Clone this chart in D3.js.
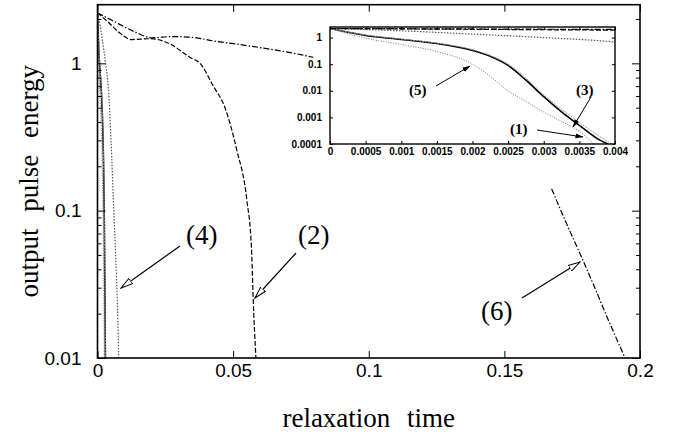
<!DOCTYPE html>
<html>
<head>
<script src="https://d3js.org/d3.v7.min.js"></script>
<style>
  body { margin: 0; background: #fff; }
  .axis path { display: none; }
  .axis line { stroke: #000; stroke-width: 1; }
  .main-tick text { font-family: "Liberation Sans", Arial, sans-serif; font-size: 19px; fill: #000; }
  .inset-tick text { font-family: "Liberation Sans", Arial, sans-serif; font-size: 10px; font-weight: bold; fill: #000; }
  .title { font-family: "Liberation Serif", "Times New Roman", serif; font-size: 27px; word-spacing: 10px; }
  .lab { font-family: "Liberation Serif", "Times New Roman", serif; font-size: 27px; }
  .ilab { font-family: "Liberation Serif", "Times New Roman", serif; font-size: 15px; font-weight: bold; }
</style>
</head>
<body>
<div class="chart"></div>
<script>
// curves: [relaxation time, output pulse energy]
var curve1 = [[0,2.2],[0.0005,1.2],[0.001,0.85],[0.0015,0.6],[0.002,0.33],[0.00225,0.2],[0.0025,0.09],[0.00275,0.025],[0.003,0.006],[0.00325,0.0016],[0.0035,0.0005],[0.00375,0.00016],[0.0039,0.0001]];
var curve2 = [[0,2.2],[0.004,1.9],[0.008,1.62],[0.0125,1.45],[0.016,1.46],[0.02,1.47],[0.024,1.42],[0.0275,1.33],[0.0305,1.22],[0.034,1.1],[0.0378,1.0],[0.0427,0.7],[0.047,0.5],[0.0513,0.26],[0.055,0.12],[0.0568,0.054],[0.0574,0.025],[0.0584,0.01]];
var curve3 = [[0,2.2],[0.0005,1.25],[0.001,0.88],[0.0015,0.62],[0.002,0.35],[0.00225,0.21],[0.0025,0.1],[0.00275,0.03],[0.003,0.007],[0.00325,0.002],[0.0035,0.00065],[0.00375,0.00022],[0.00395,0.0001]];
var curve4 = [[0,2.2],[0.001,1.8],[0.002,1.35],[0.003,1.0],[0.004,0.68],[0.005,0.3],[0.006,0.1],[0.007,0.035],[0.0075,0.018],[0.0078,0.01]];
var curve5 = [[0,2.2],[0.0005,0.95],[0.001,0.55],[0.0015,0.3],[0.002,0.1],[0.00225,0.035],[0.0025,0.01],[0.00275,0.004],[0.003,0.0016],[0.00325,0.0007],[0.0035,0.0003],[0.0037,0.0001]];
var curve6a = [[0,2.2],[0.0053,1.96],[0.0139,1.63],[0.02,1.49],[0.0275,1.52],[0.035,1.5],[0.0427,1.42],[0.055,1.32],[0.0734,1.16],[0.0795,1.1]];
var curve6b = [[0.1674,0.141],[0.1725,0.085],[0.1779,0.051],[0.183,0.031],[0.188,0.0187],[0.1945,0.01]];

var xTicks = [0, 0.05, 0.1, 0.15, 0.2];
var yTicks = [0.01, 0.1, 1];
var yMinor = [0.02,0.03,0.04,0.05,0.06,0.07,0.08,0.09,0.2,0.3,0.4,0.5,0.6,0.7,0.8,0.9,2];
var insetXTicks = [0,0.0005,0.001,0.0015,0.002,0.0025,0.003,0.0035,0.004];
var insetXLabels = ["0","0.0005","0.001","0.0015","0.002","0.0025","0.003","0.0035","0.004"];
var insetYTicks = [0.0001,0.001,0.01,0.1,1];
var insetYLabels = ["0.0001","0.001","0.01","0.1","1"];

var w = 673, h = 437;
var L = 97.5, R = 640, T = 4.7, B = 358;

var svg = d3.select("div.chart").append("svg").attr("width", w).attr("height", h);

var x = d3.scaleLinear().domain([0, 0.2]).range([L, R]);
var y = d3.scaleLog().domain([0.01, 2.5]).range([B, T]);

var defs = svg.append("defs");
defs.append("clipPath").attr("id", "clipMain").append("rect")
    .attr("x", L).attr("y", T).attr("width", R - L).attr("height", B - T);
defs.append("marker").attr("id", "openHead")
    .attr("viewBox", "0 0 13 8").attr("refX", 12).attr("refY", 4)
    .attr("markerWidth", 13).attr("markerHeight", 8)
    .attr("markerUnits", "userSpaceOnUse").attr("orient", "auto")
    .append("path").attr("d", "M0,0.8 L12,4 L0,7.2 Z")
    .attr("fill", "#fff").attr("stroke", "#000").attr("stroke-width", 1);
defs.append("marker").attr("id", "smallHead")
    .attr("viewBox", "0 0 8 6").attr("refX", 7.5).attr("refY", 3)
    .attr("markerWidth", 8).attr("markerHeight", 6)
    .attr("markerUnits", "userSpaceOnUse").attr("orient", "auto")
    .append("path").attr("d", "M0,0.5 L8,3 L0,5.5 Z").attr("fill", "#000");

var styles = [
    {data: curve1, stroke: "#000", width: 1.6, dash: null},
    {data: curve2, stroke: "#000", width: 1.2, dash: "5,2"},
    {data: curve3, stroke: "#999", width: 1, dash: "2,1"},
    {data: curve4, stroke: "#555", width: 1.2, dash: "1.5,1.5"},
    {data: curve5, stroke: "#777", width: 1, dash: "1,1.5"},
    {data: curve6a, stroke: "#000", width: 1.2, dash: "6,2,1.5,2"},
    {data: curve6b, stroke: "#000", width: 1.2, dash: "6,2,1.5,2"}
];

function drawCurves(g, xs, ys, clip) {
    var line = d3.line().curve(d3.curveMonotoneX)
        .x(function(d){ return xs(d[0]); })
        .y(function(d){ return ys(d[1]); });
    g.append("g").attr("clip-path", "url(#" + clip + ")")
        .selectAll("path").data(styles).enter().append("path")
        .attr("fill", "none")
        .attr("stroke", function(d){ return d.stroke; })
        .attr("stroke-width", function(d){ return d.width; })
        .attr("stroke-dasharray", function(d){ return d.dash; })
        .attr("d", function(d){ return line(d.data); });
}

drawCurves(svg, x, y, "clipMain");

// main axes, ticks pointing inward
svg.append("g").attr("class", "axis main-tick")
    .attr("transform", "translate(0," + B + ")")
    .call(d3.axisBottom(x).tickValues(xTicks).tickSizeInner(-7).tickSizeOuter(0).tickPadding(6)
        .tickFormat(function(d){ return String(d); }));
svg.append("g").attr("class", "axis")
    .attr("transform", "translate(0," + T + ")")
    .call(d3.axisTop(x).tickValues(xTicks).tickSizeInner(-7).tickSizeOuter(0).tickFormat(""));
svg.append("g").attr("class", "axis main-tick")
    .attr("transform", "translate(" + L + ",0)")
    .call(d3.axisLeft(y).tickValues(yTicks).tickSizeInner(-8).tickSizeOuter(0).tickPadding(16)
        .tickFormat(function(d){ return String(d); }));
svg.append("g").attr("class", "axis")
    .attr("transform", "translate(" + L + ",0)")
    .call(d3.axisLeft(y).tickValues(yMinor).tickSizeInner(-4).tickSizeOuter(0).tickFormat(""));
svg.append("g").attr("class", "axis")
    .attr("transform", "translate(" + R + ",0)")
    .call(d3.axisRight(y).tickValues(yTicks).tickSizeInner(-8).tickSizeOuter(0).tickFormat(""));
svg.append("g").attr("class", "axis")
    .attr("transform", "translate(" + R + ",0)")
    .call(d3.axisRight(y).tickValues(yMinor).tickSizeInner(-4).tickSizeOuter(0).tickFormat(""));

svg.append("rect").attr("x", L).attr("y", T).attr("width", R - L).attr("height", B - T)
    .attr("fill", "none").attr("stroke", "#000").attr("stroke-width", 1.6);

// axis titles
svg.append("text").attr("class", "title").attr("text-anchor", "middle")
    .attr("x", (L + R) / 2).attr("y", 427).text("relaxation time");
svg.append("text").attr("class", "title").attr("text-anchor", "middle")
    .attr("transform", "translate(38," + ((T + B) / 2) + ") rotate(-90)")
    .text("output pulse energy");

// curve labels
var labels = [
    {t: "(4)", x: 186, y: 244, x1: 180, y1: 246, x2: 121, y2: 288},
    {t: "(2)", x: 298, y: 244, x1: 296, y1: 253, x2: 255, y2: 298},
    {t: "(6)", x: 481, y: 320, x1: 522, y1: 298, x2: 580, y2: 262}
];
svg.selectAll("line.arrow").data(labels).enter().append("line")
    .attr("class", "arrow")
    .attr("x1", function(d){ return d.x1; }).attr("y1", function(d){ return d.y1; })
    .attr("x2", function(d){ return d.x2; }).attr("y2", function(d){ return d.y2; })
    .attr("stroke", "#000").attr("stroke-width", 1.2).attr("marker-end", "url(#openHead)");
svg.selectAll("text.lab").data(labels).enter().append("text")
    .attr("class", "lab").attr("x", function(d){ return d.x; }).attr("y", function(d){ return d.y; })
    .text(function(d){ return d.t; });

// inset
var iL = 330, iR = 615, iT = 27, iB = 144;
var ix = d3.scaleLinear().domain([0, 0.004]).range([iL, iR]);
var iy = d3.scaleLog().domain([0.0001, 2.5]).range([iB, iT]);
defs.append("clipPath").attr("id", "clipInset").append("rect")
    .attr("x", iL).attr("y", iT).attr("width", iR - iL).attr("height", iB - iT);

var inset = svg.append("g");
inset.append("rect").attr("x", iL).attr("y", iT).attr("width", iR - iL).attr("height", iB - iT)
    .attr("fill", "#fff");
drawCurves(inset, ix, iy, "clipInset");

inset.append("g").attr("class", "axis inset-tick")
    .attr("transform", "translate(0," + iB + ")")
    .call(d3.axisBottom(ix).tickValues(insetXTicks).tickSizeInner(-3).tickSizeOuter(0).tickPadding(4)
        .tickFormat(function(d, i){ return insetXLabels[i]; }));
inset.append("g").attr("class", "axis")
    .attr("transform", "translate(0," + iT + ")")
    .call(d3.axisTop(ix).tickValues(insetXTicks).tickSizeInner(-3).tickSizeOuter(0).tickFormat(""));
inset.append("g").attr("class", "axis inset-tick")
    .attr("transform", "translate(" + iL + ",0)")
    .call(d3.axisLeft(iy).tickValues(insetYTicks).tickSizeInner(-3).tickSizeOuter(0).tickPadding(8)
        .tickFormat(function(d, i){ return insetYLabels[i]; }));
inset.append("g").attr("class", "axis")
    .attr("transform", "translate(" + iR + ",0)")
    .call(d3.axisRight(iy).tickValues(insetYTicks).tickSizeInner(-3).tickSizeOuter(0).tickFormat(""));
inset.append("rect").attr("x", iL).attr("y", iT).attr("width", iR - iL).attr("height", iB - iT)
    .attr("fill", "none").attr("stroke", "#000").attr("stroke-width", 1.4);

var insetLabels = [
    {t: "(5)", x: 409, y: 95, x1: 436, y1: 86, x2: 470, y2: 66},
    {t: "(3)", x: 576, y: 95, x1: 591, y1: 97, x2: 573, y2: 127},
    {t: "(1)", x: 510, y: 134, x1: 537, y1: 130, x2: 583, y2: 137}
];
inset.selectAll("line.iarrow").data(insetLabels).enter().append("line")
    .attr("class", "iarrow")
    .attr("x1", function(d){ return d.x1; }).attr("y1", function(d){ return d.y1; })
    .attr("x2", function(d){ return d.x2; }).attr("y2", function(d){ return d.y2; })
    .attr("stroke", "#000").attr("stroke-width", 1).attr("marker-end", "url(#smallHead)");
inset.selectAll("text.ilab").data(insetLabels).enter().append("text")
    .attr("class", "ilab").attr("x", function(d){ return d.x; }).attr("y", function(d){ return d.y; })
    .text(function(d){ return d.t; });
</script>
</body>
</html>
